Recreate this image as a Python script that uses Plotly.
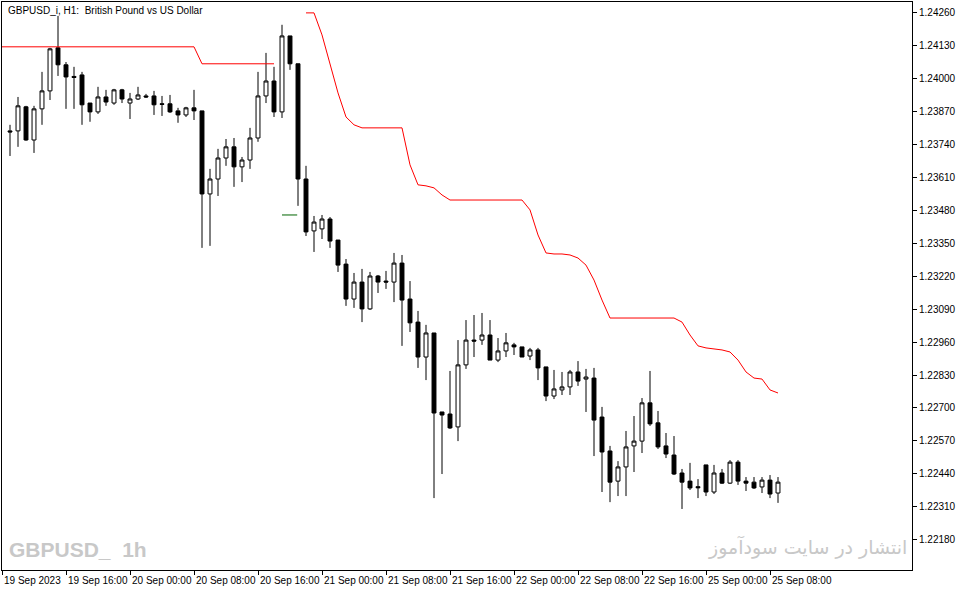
import plotly.graph_objects as go

opens = [1.23794,1.23794,1.23889,1.23758,1.23881,1.23952,1.24122,1.24055,1.24009,1.24015,
1.23904,1.23869,1.23928,1.23904,1.23956,1.23904,1.23920,1.23932,1.23932,1.23901,
1.23901,1.23873,1.23857,1.23885,1.23873,1.23545,1.23604,1.23687,1.23731,1.23652,
1.23679,1.23766,1.23932,1.23991,1.23869,1.24169,1.24059,1.23604,1.23399,1.23407,
1.23446,1.23363,1.23268,1.23130,1.23197,1.23091,1.23221,1.23201,1.23197,1.23272,
1.23130,1.23039,1.22901,1.22996,1.22684,1.22676,1.22625,1.22870,1.22968,1.22968,
1.22988,1.22889,1.22925,1.22949,1.22941,1.22905,1.22929,1.22862,1.22747,1.22771,
1.22783,1.22842,1.22814,1.22818,1.22664,1.22530,1.22411,1.22467,1.22550,1.22569,
1.22720,1.22641,1.22550,1.22514,1.22443,1.22411,1.22389,1.22475,1.22368,1.22443,
1.22403,1.22486,1.22411,1.22407,1.22388,1.22415,1.22364]
highs = [1.23818,1.23928,1.23893,1.23893,1.24027,1.24122,1.24248,1.24066,1.24047,1.24027,
1.23904,1.23968,1.23956,1.23960,1.23960,1.23944,1.23968,1.23940,1.23952,1.23932,
1.23936,1.23885,1.23889,1.23956,1.23873,1.23644,1.23723,1.23762,1.23766,1.23691,
1.23806,1.24027,1.24102,1.24047,1.24213,1.24169,1.24059,1.23656,1.23458,1.23462,
1.23454,1.23363,1.23288,1.23233,1.23249,1.23237,1.23225,1.23241,1.23312,1.23304,
1.23201,1.23083,1.23028,1.22996,1.22684,1.22846,1.22968,1.23047,1.23067,1.23075,
1.23047,1.22976,1.22996,1.22957,1.22941,1.22937,1.22937,1.22862,1.22850,1.22842,
1.22850,1.22885,1.22854,1.22858,1.22704,1.22550,1.22490,1.22609,1.22668,1.22739,
1.22846,1.22688,1.22601,1.22589,1.22459,1.22483,1.22419,1.22475,1.22475,1.22459,
1.22494,1.22494,1.22427,1.22427,1.22427,1.22435,1.22427]
lows = [1.23695,1.23731,1.23755,1.23707,1.23818,1.23916,1.24011,1.23881,1.23881,1.23818,
1.23830,1.23861,1.23893,1.23897,1.23904,1.23841,1.23916,1.23924,1.23857,1.23853,
1.23865,1.23826,1.23849,1.23837,1.23332,1.23340,1.23537,1.23656,1.23573,1.23592,
1.23644,1.23751,1.23904,1.23849,1.23845,1.24035,1.23498,1.23379,1.23316,1.23367,
1.23332,1.23237,1.23103,1.23095,1.23039,1.23087,1.23154,1.23170,1.23118,1.22945,
1.23000,1.22858,1.22810,1.22344,1.22439,1.22617,1.22569,1.22854,1.22901,1.22949,
1.22889,1.22881,1.22901,1.22909,1.22901,1.22889,1.22810,1.22727,1.22735,1.22751,
1.22751,1.22787,1.22684,1.22510,1.22368,1.22328,1.22352,1.22352,1.22447,1.22522,
1.22629,1.22538,1.22502,1.22435,1.22301,1.22376,1.22344,1.22352,1.22360,1.22400,
1.22400,1.22396,1.22372,1.22380,1.22364,1.22344,1.22325]
closes = [1.23790,1.23893,1.23758,1.23881,1.23952,1.24118,1.24055,1.24007,1.24005,1.23897,
1.23869,1.23928,1.23908,1.23956,1.23920,1.23920,1.23936,1.23928,1.23897,1.23899,
1.23869,1.23857,1.23885,1.23873,1.23545,1.23604,1.23687,1.23731,1.23652,1.23679,
1.23766,1.23932,1.23991,1.23869,1.24169,1.24059,1.23604,1.23395,1.23434,1.23446,
1.23359,1.23264,1.23130,1.23197,1.23091,1.23221,1.23197,1.23197,1.23272,1.23126,
1.23036,1.22901,1.22996,1.22680,1.22672,1.22621,1.22870,1.22968,1.22964,1.22988,
1.22889,1.22925,1.22957,1.22941,1.22901,1.22929,1.22858,1.22747,1.22775,1.22783,
1.22842,1.22806,1.22822,1.22652,1.22526,1.22407,1.22467,1.22546,1.22569,1.22720,
1.22637,1.22546,1.22518,1.22439,1.22407,1.22384,1.22385,1.22368,1.22443,1.22403,
1.22486,1.22411,1.22403,1.22384,1.22415,1.22360,1.22407]

stop_line = [1.24126]*24 + [1.24059]*10 + [None]*3 + [1.24260,1.24260,1.24173,1.24059,1.23944,1.23849,1.23818] \
    + [1.23806]*6 + [1.23660,1.23581,1.23577,1.23569,1.23541] + [1.23521]*10 \
    + [1.23482,1.23383,1.23312,1.23308,1.23308,1.23304,1.23292,1.23264,1.23205,1.23126] \
    + [1.23055]*9 + [1.23039,1.22988,1.22945,1.22937,1.22933,1.22929,1.22921,1.22889,1.22842,1.22818,1.22814,1.22771,1.22759]

bars = list(range(len(opens)))
time_ticks = [-1, 7, 15, 23, 31, 39, 47, 55, 63, 71, 79, 87, 95]
time_labels = ["19 Sep 2023","19 Sep 16:00","20 Sep 00:00","20 Sep 08:00","20 Sep 16:00",
               "21 Sep 00:00","21 Sep 08:00","21 Sep 16:00","22 Sep 00:00","22 Sep 08:00",
               "22 Sep 16:00","25 Sep 00:00","25 Sep 08:00"]
price_ticks = [1.24260,1.24130,1.24000,1.23870,1.23740,1.23610,1.23480,1.23350,1.23220,
               1.23090,1.22960,1.22830,1.22700,1.22570,1.22440,1.22310,1.22180]
marker_x = [34, 35.9]
marker_y = [1.23462, 1.23462]

fig = go.Figure()
fig.add_trace(go.Scatter(x=[b-1 if b == 0 else b for b in bars], y=stop_line, mode="lines",
                         line=dict(color="#ff0000", width=1), hoverinfo="skip", connectgaps=False))
fig.add_trace(go.Scatter(x=marker_x, y=marker_y, mode="lines", line=dict(color="#006400", width=1)))
fig.add_trace(go.Candlestick(x=bars, open=opens, high=highs, low=lows, close=closes,
    increasing=dict(line=dict(color="black", width=1), fillcolor="white"),
    decreasing=dict(line=dict(color="black", width=1), fillcolor="black"),
    whiskerwidth=0))

fig.update_layout(
    width=976, height=593, margin=dict(l=2, r=64, t=2, b=23, autoexpand=False),
    paper_bgcolor="white", plot_bgcolor="white", showlegend=False,
    font=dict(family="Liberation Sans, Arial", size=10, color="black"),
    xaxis=dict(range=[-1, 112.75], rangeslider=dict(visible=False), showgrid=False,
               tickvals=time_ticks, ticktext=[""]*len(time_ticks), ticks="outside", ticklen=4,
               tickcolor="black", showline=True, linecolor="black", mirror=True, zeroline=False),
    yaxis=dict(range=[1.22060, 1.24303], side="right", showgrid=False, tickvals=price_ticks,
               ticktext=[f"{v:.5f}" for v in price_ticks], ticks="outside", ticklen=4,
               tickcolor="black", showline=True, linecolor="black", mirror=True, zeroline=False),
)
for t, lab in zip(time_ticks, time_labels):
    fig.add_annotation(x=t, y=0, yref="paper", yshift=-3, text=lab, showarrow=False,
                       xanchor="left", yanchor="top", xshift=0, font=dict(size=10))
fig.add_annotation(x=0.004, y=0.998, xref="paper", yref="paper", text="GBPUSD_i, H1:  British Pound vs US Dollar",
                   showarrow=False, xanchor="left", yanchor="top", font=dict(size=10))
fig.add_annotation(x=0.006, y=0.012, xref="paper", yref="paper", text="<b>GBPUSD_  1h</b>",
                   showarrow=False, xanchor="left", yanchor="bottom", font=dict(size=21, color="#c8c8c8"))
fig.add_annotation(x=0.997, y=0.015, xref="paper", yref="paper", text="انتشار در سایت سودآموز",
                   showarrow=False, xanchor="right", yanchor="bottom",
                   font=dict(size=19, color="#c8c8c8", family="DejaVu Sans"))
fig.write_html("out.html", config={"displayModeBar": False},
               post_script="document.body.style.margin='0';")
